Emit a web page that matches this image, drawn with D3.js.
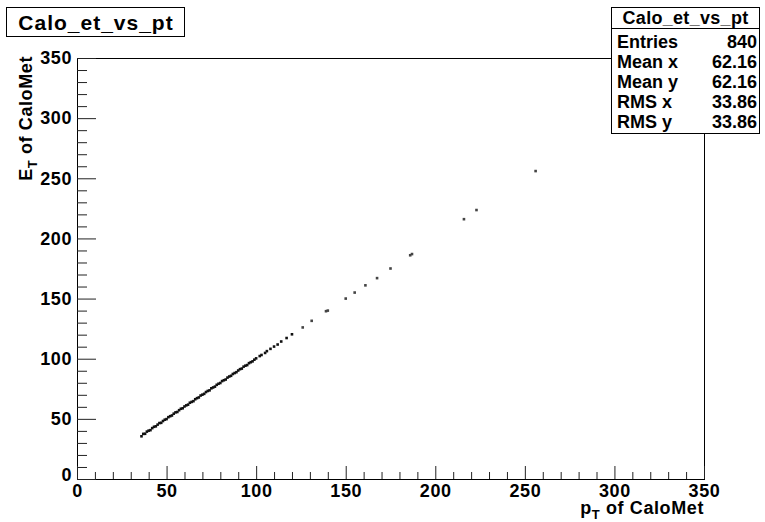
<!DOCTYPE html>
<html>
  <head>
    <meta charset="utf-8">
    <title>Calo_et_vs_pt</title>
    <style>
      body { margin: 0; background: #fff; }
      svg { display: block; font-family: "Liberation Sans", Arial, sans-serif; font-weight: bold; }
    </style>
  </head>
  <body>
    <script src="https://d3js.org/d3.v7.min.js"></script>
    <script>
    // data: pt of CaloMet vs Et of CaloMet
    var ptVals = [36,37,38,39,40,41,42,43,44,45,46,47,48,49,50,51,52,53,54,55,56,57,58,59,60,
      61,62,63,64,65,66,67,68,69,70,71,72,73,74,75,76,77,78,79,80,81,82,83,84,85,86,87,88,89,90,
      91,92,93,94,95,96,97,98,99,100,102,103,105,106,108,110,112,114,117,120,126,131,139,140,
      150,155,161,167.5,175,186,187,216,223,256];
    var etVals = [35.5,37.5,37.6,39.4,40.2,40.6,42.3,43.4,43.8,45.2,46.5,46.7,48.2,49.3,49.8,
      51.4,52.2,52.8,54.3,55.4,55.7,57.2,58.4,58.8,60.3,61.2,61.8,63.4,64.1,64.7,66.3,67.2,67.8,
      69.4,70.1,70.8,72.3,73.2,73.7,75.4,76.1,76.8,78.3,79.2,79.8,81.4,82.1,82.7,84.3,85.2,85.8,
      87.3,88.1,88.8,90.2,91.3,91.8,93.4,94.2,94.7,96.3,97.1,97.8,99.2,100.3,102.2,103.1,104.8,
      106.3,108.2,110.1,111.8,114.3,117.2,120.3,126,131.5,139.5,140,150,155,161,167,175,186,187,
      216,223.6,256];
    var statLabels = ["Entries","Mean x","Mean y","RMS x","RMS y"];
    var statValues = ["840","62.16","62.16","33.86","33.86"];

    var width = 765, height = 522;
    var pLeft = 77, pRight = 704, pTop = 58, pBottom = 479;

    var svg = d3.select("body").append("svg")
      .attr("width", width)
      .attr("height", height);

    var x = d3.scaleLinear().domain([0,350]).range([pLeft, pRight]);
    var y = d3.scaleLinear().domain([0,350]).range([pBottom, pTop]);

    // frame
    svg.append("rect")
      .attr("x", pLeft + 0.5).attr("y", pTop + 0.5)
      .attr("width", pRight-pLeft).attr("height", pBottom-pTop)
      .attr("fill", "none").attr("stroke", "#000").attr("stroke-width", 1);

    // x axis: ticks point up
    var xAxis = d3.axisBottom(x).tickValues(d3.range(0, 351, 10))
      .tickSize(-7).tickFormat(function(d){ return d%50===0 ? d : ""; });
    var gx = svg.append("g").attr("transform", "translate(0," + pBottom + ")").call(xAxis);
    gx.select(".domain").remove();
    gx.selectAll(".tick line").attr("y2", function(d){ return d%50===0 ? -13 : -7; })
      .attr("stroke", "#222");
    gx.selectAll(".tick text").attr("y", 5).attr("dy", "0.71em")
      .style("font-size", "18px").style("font-weight", "bold")
      .style("letter-spacing", "0.6px").attr("fill", "#000");

    // y axis: ticks point right
    var yAxis = d3.axisLeft(y).tickValues(d3.range(0, 351, 10))
      .tickSize(-10).tickFormat(function(d){ return d%50===0 ? d : ""; });
    var gy = svg.append("g").attr("transform", "translate(" + pLeft + ",0)").call(yAxis);
    gy.select(".domain").remove();
    gy.selectAll(".tick line").attr("x2", function(d){ return d%50===0 ? 19 : 10; })
      .attr("stroke", "#222");
    gy.selectAll(".tick text").attr("x", -5)
      .style("font-size", "18px").style("font-weight", "bold")
      .style("letter-spacing", "0.6px").attr("fill", "#000");
    gy.selectAll(".tick").filter(function(d){ return d===0; }).select("text").attr("dy", "0.1em");

    // scatter points
    svg.append("g").selectAll("rect")
      .data(ptVals.map(function(p, i){ return [p, etVals[i]]; }))
      .enter().append("rect")
      .attr("x", function(d){ return x(d[0]) - 1.3; })
      .attr("y", function(d){ return y(d[1]) - 1.3; })
      .attr("width", 2.6).attr("height", 2.6)
      .attr("fill", function(d){ return d[0] > 120 ? "#444" : "#111"; });

    // axis titles
    var xt = svg.append("text").attr("x", pRight).attr("y", 514)
      .attr("text-anchor", "end").style("font-size", "18px").style("letter-spacing", "0.6px");
    xt.append("tspan").text("p");
    xt.append("tspan").attr("dy", 5).style("font-size", "13px").text("T");
    xt.append("tspan").attr("dy", -5).text(" of CaloMet");

    var yt = svg.append("text").attr("transform", "translate(32," + (pTop - 2) + ") rotate(-90)")
      .attr("text-anchor", "end").style("font-size", "18px").style("letter-spacing", "0.6px");
    yt.append("tspan").text("E");
    yt.append("tspan").attr("dy", 5).style("font-size", "13px").text("T");
    yt.append("tspan").attr("dy", -5).text(" of CaloMet");

    // title box
    svg.append("rect").attr("x", 6.5).attr("y", 7.5).attr("width", 178).attr("height", 29)
      .attr("fill", "#fff").attr("stroke", "#000");
    svg.append("text").attr("x", 96).attr("y", 30).attr("text-anchor", "middle")
      .style("font-size", "21px").style("letter-spacing", "1px").text("Calo_et_vs_pt");

    // stats box
    var sx = 611.5, sy = 7.5, sw = 148, sh = 126;
    svg.append("rect").attr("x", sx).attr("y", sy).attr("width", sw).attr("height", sh)
      .attr("fill", "#fff").attr("stroke", "#000");
    svg.append("line").attr("x1", sx).attr("x2", sx+sw).attr("y1", 28.5).attr("y2", 28.5)
      .attr("stroke", "#000");
    svg.append("text").attr("x", sx + sw/2).attr("y", 24).attr("text-anchor", "middle")
      .style("font-size", "18px").style("letter-spacing", "0.3px").text("Calo_et_vs_pt");
    statLabels.forEach(function(l, i){
      svg.append("text").attr("x", 617).attr("y", 47.5 + i*20)
        .style("font-size", "18px").text(l);
      svg.append("text").attr("x", 757).attr("y", 47.5 + i*20).attr("text-anchor", "end")
        .style("font-size", "18px").text(statValues[i]);
    });
    </script>
  </body>
</html>
